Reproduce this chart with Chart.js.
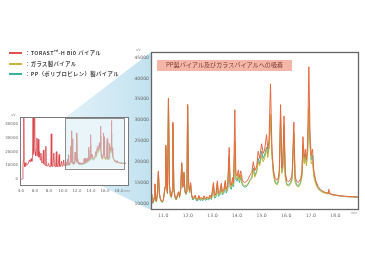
<!DOCTYPE html>
<html>
<head>
<meta charset="utf-8">
<script src="https://cdn.jsdelivr.net/npm/chart.js@4.4.1/dist/chart.umd.min.js"></script>
<style>
  body { margin: 0; background: #fff; width: 365px; height: 255px; position: relative; overflow: hidden;
         font-family: "Noto Sans CJK JP", "Noto Sans", sans-serif; }
  #bg { position: absolute; left: 0; top: 0; }
  .wrap { position: absolute; }
  .lg { position: absolute; left: 25px; height: 8px; line-height: 8px; font-size: 5.4px; font-weight: bold;
        color: #4a4a4a; letter-spacing: 0.35px; white-space: nowrap; }
  .sw { position: absolute; left: 9px; width: 13px; height: 2px; }
  .unit { position: absolute; font-size: 3.4px; color: #888; font-family: "DejaVu Sans", sans-serif; }
  #title { position: absolute; left: 157px; top: 60px; width: 135px; height: 10.5px; background: #f3b6a7;
           color: #7a3b33; font-size: 6.1px; line-height: 10.5px; text-align: center; white-space: nowrap; }
</style>
</head>
<body>
<canvas id="bg" width="365" height="255"></canvas>
<div class="wrap" style="left:0;top:110px"><canvas id="smallChart" width="135" height="90"></canvas></div>
<div class="wrap" style="left:130px;top:45px"><canvas id="mainChart" width="235" height="180"></canvas></div>

<div class="sw" style="top:52.3px;background:#e4504c"></div>
<div class="sw" style="top:63.3px;background:#c9b43a"></div>
<div class="sw" style="top:73.3px;background:#35b3a2"></div>
<div class="lg" style="top:49.3px">：TORAST™-H Bio バイアル</div>
<div class="lg" style="top:60.3px">：ガラス製バイアル</div>
<div class="lg" style="top:70.3px">：PP（ポリプロピレン）製バイアル</div>

<div id="title">PP製バイアル及びガラスバイアルへの吸着</div>
<div class="unit" style="left:136px;top:48px">uV</div>
<div class="unit" style="left:11px;top:113px">uV</div>
<div class="unit" style="left:351px;top:211px">min</div>
<div class="unit" style="left:124px;top:189px">min</div>

<script>
// early part of the run (only the TORAST trace is visible there)
const earlyTimes = [
  3.80, 4.10, 4.20, 4.28, 4.35, 4.40, 4.45, 4.55, 4.70, 4.80,
  5.00, 5.20, 5.30, 5.45, 5.55, 5.65, 5.72, 5.78, 5.85, 5.95,
  6.02, 6.10, 6.20, 6.28, 6.33, 6.40, 6.47, 6.55, 6.65, 6.75,
  6.85, 6.95, 7.10, 7.20, 7.28, 7.45, 7.55, 7.62, 7.80, 7.95,
  8.05, 8.25, 8.32, 8.40, 8.55, 8.70, 8.78, 8.95, 9.05, 9.12,
  9.30, 9.45, 9.52, 9.65, 9.80, 9.87, 10.00, 10.10, 10.17, 10.30,
  10.40, 10.46
];
const earlyTorast = [
  0, 0, 300, 9000, 14000, 50000, 12000, 9000, 12000, 10000,
  11000, 14000, 12500, 15000, 13000, 16000, 52000, 18000, 20000, 52000,
  20000, 17000, 22000, 30000, 17000, 25000, 29000, 16000, 20000, 14000,
  19000, 12000, 12000, 21000, 11000, 10000, 24000, 10000, 9500, 11500,
  9200, 9000, 33000, 9500, 9000, 19000, 9500, 9000, 20000, 9300,
  9000, 18000, 9400, 9200, 13000, 9500, 9800, 14000, 10000, 10500,
  13000, 11000
];

// retention time (min) for the zoomed part
const times = [
  10.50, 10.53, 10.56, 10.60, 10.63, 10.66, 10.69, 10.72, 10.76, 10.80,
  10.84, 10.88, 10.92, 10.96, 11.00, 11.04, 11.07, 11.10, 11.14, 11.17,
  11.21, 11.25, 11.29, 11.33, 11.36, 11.39, 11.43, 11.48, 11.53, 11.58,
  11.62, 11.66, 11.71, 11.75, 11.79, 11.81, 11.84, 11.88, 11.92, 11.96,
  11.99, 12.03, 12.07, 12.11, 12.15, 12.20, 12.25, 12.30, 12.34, 12.40,
  12.45, 12.50, 12.55, 12.60, 12.66, 12.72, 12.78, 12.84, 12.90, 12.96,
  13.04, 13.08, 13.14, 13.20, 13.24, 13.30, 13.36, 13.40, 13.46, 13.52,
  13.56, 13.62, 13.68, 13.72, 13.77, 13.82, 13.86, 13.91, 13.95, 14.00,
  14.05, 14.10, 14.15, 14.22, 14.30, 14.38, 14.45, 14.52, 14.60, 14.66,
  14.72, 14.80, 14.86, 14.92, 15.00, 15.06, 15.12, 15.20, 15.25, 15.30,
  15.36, 15.42, 15.48, 15.55, 15.62, 15.68, 15.72, 15.77, 15.82, 15.86,
  15.91, 15.96, 16.02, 16.10, 16.18, 16.24, 16.31, 16.36, 16.42, 16.50,
  16.58, 16.64, 16.68, 16.73, 16.78, 16.82, 16.87, 16.92, 16.97, 17.02,
  17.07, 17.12, 17.20, 17.30, 17.40, 17.50, 17.60, 17.70, 17.73, 17.76,
  17.90, 18.10, 18.30, 18.50, 18.70, 18.95
];
const torast = [
  12200, 11000, 10200, 10400, 11500, 14700, 11000, 10500, 12500, 17800,
  12500, 11200, 10600, 10400, 10800, 12500, 14000, 24000, 14000, 12500,
  35300, 14500, 12000, 11600, 13000, 29500, 13500, 11500, 11000, 12200,
  12800, 11600, 13500, 19800, 14000, 14500, 17500, 13000, 12400, 13000,
  33800, 14500, 13000, 15000, 12200, 11200, 11500, 12000, 11100, 11000,
  11900, 11100, 11400, 11000, 11800, 11100, 11600, 11200, 12000, 11400,
  15000, 12000, 12200, 15400, 12400, 12800, 14800, 12800, 13200, 15500,
  13400, 14200, 23400, 14600, 14400, 16200, 15000, 32500, 17200, 16600,
  18000, 16200, 17800, 15400, 15000, 15200, 15800, 16700, 17400, 20000,
  17800, 19000, 22500, 20800, 24300, 22000, 22800, 26500, 23000, 25000,
  38700, 23000, 18000, 16000, 15500, 16200, 18000, 33700, 18500, 19500,
  31000, 17500, 15500, 15200, 15800, 17000, 29500, 16500, 15300, 15000,
  15800, 17500, 26000, 21000, 23000, 20500, 24000, 42800, 26000, 21500,
  23000, 18000, 15500, 14000, 13300, 12900, 12600, 12500, 13400, 12400,
  12100, 11900, 11750, 11650, 11600, 11500
];
const glass = [
  12100, 10900, 10100, 10300, 11400, 14500, 10900, 10400, 12400, 17500,
  12300, 11100, 10500, 10300, 10700, 12400, 13900, 23700, 13900, 12400,
  35000, 14400, 11900, 11500, 12900, 29200, 13400, 11400, 10900, 12100,
  12700, 11500, 13400, 19600, 13900, 14400, 17300, 12900, 12300, 12900,
  33500, 14300, 12800, 14700, 12000, 11000, 11300, 11800, 10900, 10800,
  11700, 10900, 11200, 10800, 11600, 10900, 11400, 11000, 11700, 11100,
  14600, 11600, 11800, 15000, 12000, 12400, 14300, 12300, 12700, 15000,
  12900, 13700, 21500, 14000, 13800, 15500, 14400, 25000, 16200, 15800,
  17000, 15400, 16800, 14600, 14200, 14300, 14800, 15400, 16000, 18000,
  16300, 17400, 20000, 19000, 21500, 20000, 20800, 23000, 21000, 23000,
  31500, 21500, 16800, 14900, 14400, 15000, 16800, 31500, 17200, 18200,
  29000, 16300, 14400, 14100, 14600, 15800, 27000, 15300, 14200, 13900,
  14700, 16300, 24000, 19500, 21200, 19000, 22000, 33000, 23500, 19500,
  20000, 16500, 14600, 13400, 12900, 12600, 12400, 12300, 12700, 12250,
  12000, 11850, 11700, 11600, 11550, 11500
];
const pp = [
  12000, 10800, 10000, 10200, 11300, 14400, 10800, 10300, 12300, 17300,
  12200, 11000, 10400, 10200, 10600, 12300, 13800, 23500, 13800, 12300,
  34800, 14300, 11800, 11400, 12800, 29000, 13300, 11300, 10800, 12000,
  12600, 11400, 13300, 19400, 13800, 14300, 17100, 12700, 12100, 12700,
  33300, 14100, 12600, 14500, 11800, 10800, 11100, 11500, 10700, 10600,
  11400, 10700, 10900, 10600, 11300, 10700, 11100, 10800, 11400, 10900,
  14300, 11300, 11500, 14700, 11700, 12000, 14000, 12000, 12400, 14600,
  12500, 13300, 21000, 13600, 13400, 15000, 14000, 24500, 15800, 15300,
  16600, 15000, 16400, 14300, 13900, 14000, 14600, 15600, 16200, 18500,
  16600, 17800, 20800, 19500, 22500, 20800, 21600, 23500, 21800, 23500,
  31000, 21800, 17200, 15200, 14700, 15400, 17200, 30000, 17600, 18600,
  28000, 16600, 14700, 14400, 15000, 16200, 26500, 15700, 14500, 14300,
  15000, 16700, 23500, 20000, 21800, 19600, 22500, 33000, 24500, 20500,
  21500, 17000, 15000, 13700, 13100, 12700, 12500, 12400, 12900, 12300,
  12050, 11850, 11700, 11600, 11550, 11500
];

const smallXTicks = [4, 6, 8, 10, 12, 14, 16, 18];
const smallYTicks = [0, 10000, 20000, 30000, 40000];
const mainXTicks = [11, 12, 13, 14, 15, 16, 17, 18];
const mainYTicks = [10000, 15000, 20000, 25000, 30000, 35000, 40000, 45000];
// window of the overview that is blown up on the right
const zoomWindow = { x0: 10.3, x1: 18.7, y0: 7800, y1: 44700 };

function pts(xs, ys) { return xs.map((x, i) => ({ x: x, y: ys[i] })); }

const framePlugin = {
  id: 'frame',
  beforeDraw(chart) {
    const a = chart.chartArea, ctx = chart.ctx;
    ctx.save();
    ctx.fillStyle = '#fff';
    ctx.fillRect(a.left, a.top, a.width, a.height);
    ctx.restore();
  },
  afterDatasetsDraw(chart, args, opts) {
    const a = chart.chartArea, ctx = chart.ctx;
    ctx.save();
    if (opts.zoom) {
      const sx = chart.scales.x, sy = chart.scales.y;
      const x0 = sx.getPixelForValue(zoomWindow.x0), x1 = sx.getPixelForValue(zoomWindow.x1);
      const y0 = sy.getPixelForValue(zoomWindow.y1), y1 = sy.getPixelForValue(zoomWindow.y0);
      ctx.fillStyle = 'rgba(214,236,246,0.5)';
      ctx.fillRect(x0, y0, x1 - x0, y1 - y0);
      ctx.strokeStyle = '#8c8c8c';
      ctx.lineWidth = 1;
      ctx.strokeRect(Math.round(x0) + 0.5, Math.round(y0) + 0.5, Math.round(x1 - x0), Math.round(y1 - y0));
    }
    ctx.strokeStyle = opts.color;
    ctx.lineWidth = opts.width;
    ctx.strokeRect(a.left + 0.5, a.top + 0.5, a.width - 1, a.height - 1);
    ctx.restore();
  }
};

function axes(xmin, xmax, ymin, ymax, xt, yt, fs, yw, xh) {
  return {
    x: {
      type: 'linear', min: xmin, max: xmax,
      grid: { display: false, drawTicks: false, tickLength: 0 }, border: { display: false },
      afterBuildTicks: s => { s.ticks = xt.map(v => ({ value: v })); },
      afterFit: s => { s.height = xh; },
      ticks: { font: { size: fs, family: 'DejaVu Sans' }, color: '#6a6a6a', padding: 3,
               maxRotation: 0, autoSkip: false, callback: v => v.toFixed(1) }
    },
    y: {
      min: ymin, max: ymax,
      grid: { display: false, drawTicks: false, tickLength: 0 }, border: { display: false },
      afterBuildTicks: s => { s.ticks = yt.map(v => ({ value: v })); },
      afterFit: s => { s.width = yw; },
      ticks: { font: { size: fs, family: 'DejaVu Sans' }, color: '#6a6a6a', padding: 2, callback: v => String(v) }
    }
  };
}

const smallChart = new Chart(document.getElementById('smallChart'), {
  type: 'line',
  data: {
    datasets: [
      { label: 'TORAST-H Bio', data: pts(earlyTimes.concat(times), earlyTorast.concat(torast)),
        borderColor: '#d8454a', borderWidth: 0.8, pointRadius: 0 },
      { label: 'ガラス製', data: pts(times, glass), borderColor: '#c9b43a', borderWidth: 0.8, pointRadius: 0 },
      { label: 'PP製', data: pts(times, pp), borderColor: '#35b3a2', borderWidth: 0.8, pointRadius: 0 }
    ]
  },
  options: {
    responsive: false, maintainAspectRatio: false, animation: false,
    layout: { padding: { top: 7, right: 6, left: 0, bottom: 0 } },
    plugins: { legend: { display: false }, tooltip: { enabled: false },
               frame: { color: '#7a7a7a', width: 1, zoom: true } },
    scales: axes(3.86, 19.43, -5000, 45300, smallXTicks, smallYTicks, 4, 20, 14)
  },
  plugins: [framePlugin]
});

const mainChart = new Chart(document.getElementById('mainChart'), {
  type: 'line',
  data: {
    datasets: [
      { label: 'TORAST-H Bio', data: pts(times, torast), borderColor: '#e8683f', borderWidth: 1, pointRadius: 0 },
      { label: 'ガラス製', data: pts(times, glass), borderColor: '#c9b43a', borderWidth: 1, pointRadius: 0 },
      { label: 'PP製', data: pts(times, pp), borderColor: '#35b3a2', borderWidth: 1, pointRadius: 0 }
    ]
  },
  options: {
    responsive: false, maintainAspectRatio: false, animation: false,
    layout: { padding: { top: 7, right: 6, left: 0, bottom: 0 } },
    plugins: { legend: { display: false }, tooltip: { enabled: false },
               frame: { color: '#666', width: 1.3, zoom: false } },
    scales: axes(10.5, 18.96, 8400, 46350, mainXTicks, mainYTicks, 4.6, 21, 15)
  },
  plugins: [framePlugin]
});

// projection band from the overview window to the big chart
(function () {
  const ctx = document.getElementById('bg').getContext('2d');
  const sx = smallChart.scales.x, sy = smallChart.scales.y;
  const zx = sx.getPixelForValue(zoomWindow.x0);
  const zt = 110 + sy.getPixelForValue(zoomWindow.y1);
  const zb = 110 + sy.getPixelForValue(zoomWindow.y0);
  const a = mainChart.chartArea;
  const mx = 130 + a.left, mt = 45 + a.top, mb = 45 + a.bottom;
  const g = ctx.createLinearGradient(zx, 0, mx, 0);
  g.addColorStop(0, '#e2f1f8');
  g.addColorStop(1, '#c2e2f0');
  ctx.fillStyle = g;
  ctx.beginPath();
  ctx.moveTo(zx, zt);
  ctx.lineTo(mx, mt);
  ctx.lineTo(130 + a.right, mt);
  ctx.lineTo(130 + a.right, mb);
  ctx.lineTo(mx, mb);
  ctx.lineTo(zx, zb);
  ctx.closePath();
  ctx.fill();
})();
</script>
</body>
</html>
